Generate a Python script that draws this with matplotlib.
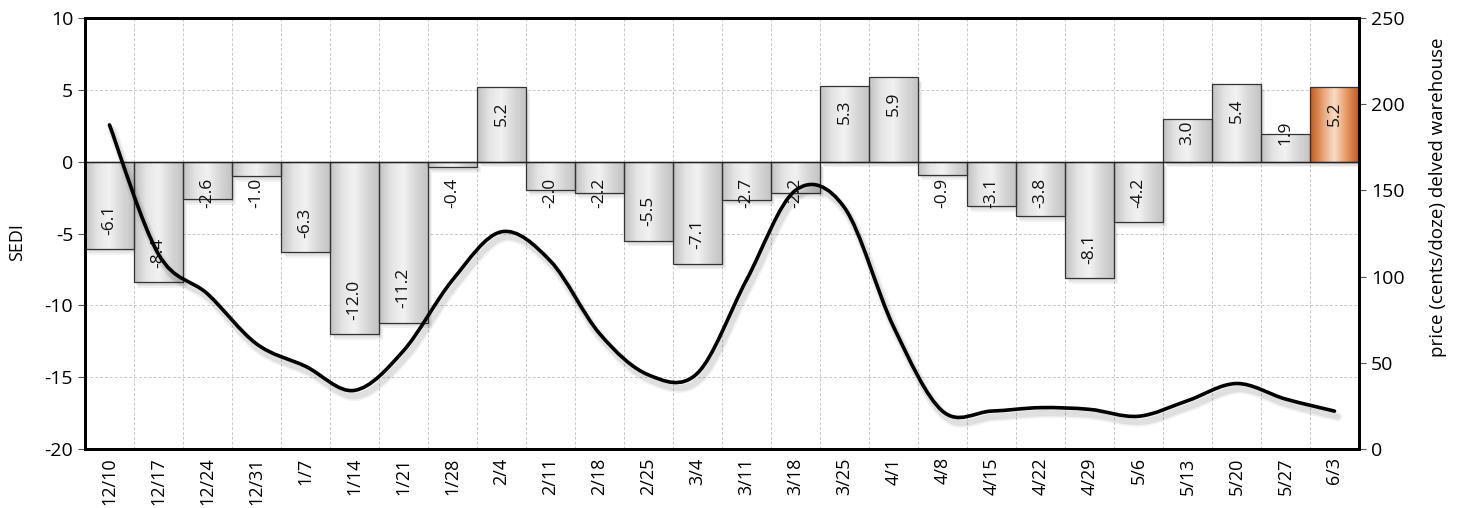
import numpy as np
import matplotlib.pyplot as plt
from matplotlib.path import Path
from matplotlib.patches import PathPatch
import matplotlib.patheffects as pe
from matplotlib.colors import LinearSegmentedColormap

plt.rcParams['font.family'] = ['Open Sans', 'DejaVu Sans']
plt.rcParams['axes.unicode_minus'] = False

weeks = ['12/10', '12/17', '12/24', '12/31', '1/7', '1/14', '1/21', '1/28',
         '2/4', '2/11', '2/18', '2/25', '3/4', '3/11', '3/18', '3/25', '4/1',
         '4/8', '4/15', '4/22', '4/29', '5/6', '5/13', '5/20', '5/27', '6/3']
sedi = [-6.1, -8.4, -2.6, -1.0, -6.3, -12.0, -11.2, -0.4, 5.2, -2.0, -2.2,
        -5.5, -7.1, -2.7, -2.2, 5.3, 5.9, -0.9, -3.1, -3.8, -8.1, -4.2, 3.0,
        5.4, 1.9, 5.2]
price = [188, 113, 90, 61, 48, 34, 57, 98, 126, 109, 67, 43, 44, 98, 150,
         140, 71, 22, 22, 24, 23, 19, 28, 38, 29, 22]

x = np.arange(len(weeks))

fig = plt.figure(figsize=(14.6, 5.08), dpi=100)
ax = fig.add_axes([0.0582, 0.1161, 0.8726, 0.8485])
ax2 = ax.twinx()

gray = LinearSegmentedColormap.from_list('g', ['#c2c2c2', '#e4e4e4', '#f2f2f2', '#d8d8d8', '#c4c4c4'])
orange = LinearSegmentedColormap.from_list('o', ['#c25a1e', '#e9a070', '#f8dcc8', '#e59a68', '#c25a1e'])
grad = np.linspace(0, 1, 64).reshape(1, -1)

bars = ax.bar(x, sedi, width=1.0, color='none', edgecolor='#333333', linewidth=0.9, zorder=3)
for i, b in enumerate(bars):
    x0, y0, w, h = b.get_x(), b.get_y(), b.get_width(), b.get_height()
    # soft shadow below/right of each bar
    for k, a in enumerate([0.05, 0.05, 0.05]):
        sh = plt.Rectangle((x0 + 0.04 + 0.02 * k, y0 - 0.15 - 0.12 * k), w, h,
                           facecolor='#000000', alpha=a, edgecolor='none', zorder=2)
        ax.add_patch(sh)
    cm = orange if i == len(sedi) - 1 else gray
    im = ax.imshow(grad, cmap=cm, aspect='auto', extent=(x0, x0 + w, y0, y0 + h),
                   zorder=2.5, interpolation='bicubic')
    im.set_clip_path(b)

# labels: inside end, or pushed out from the base if the bar is short
for xi, v in zip(x, sedi):
    s = 1 if v > 0 else -1
    if abs(v) > 4.35:
        y = v - s * 1.0
        va = 'top' if s > 0 else 'bottom'
    else:
        y = s * 1.15
        va = 'bottom' if s > 0 else 'top'
    ax.text(xi, y, f'{v:.1f}', rotation=90, ha='center', va=va, fontsize=12.5,
            color='#111111', zorder=5)

ax.axhline(0, color='#222222', lw=1.0, zorder=4)
ax.set_xlim(-0.5, len(weeks) - 0.5)
ax.set_ylim(-20, 10)
ax.set_yticks([-20, -15, -10, -5, 0, 5, 10])
ax.set_xticks(x)
ax.set_xticklabels(weeks, rotation=90, fontsize=13)
ax.set_xticks(np.arange(-0.5, len(weeks)), minor=True)
ax.tick_params(axis='x', which='major', length=0, pad=6)
ax.tick_params(axis='x', which='minor', length=0)
ax.tick_params(axis='y', labelsize=14, length=5, width=0.8, color='#555555')
ax.grid(True, axis='y', which='major', ls=(0, (3, 2)), color='#c8c8c8', lw=0.7, zorder=0)
ax.grid(True, axis='x', which='minor', ls=(0, (3, 2)), color='#c8c8c8', lw=0.7, zorder=0)
ax.set_axisbelow(True)
ax.set_ylabel('SEDI', fontsize=13)
ax.yaxis.set_label_coords(-0.046, 0.48)

# smooth line (Catmull-Rom -> cubic bezier)
pts = np.column_stack([x, price]).astype(float)
p = np.vstack([pts[0], pts, pts[-1]])
verts = [tuple(pts[0])]
codes = [Path.MOVETO]
for k in range(1, len(p) - 2):
    c1 = p[k] + (p[k + 1] - p[k - 1]) / 6
    c2 = p[k + 1] - (p[k + 2] - p[k]) / 6
    verts += [tuple(c1), tuple(c2), tuple(p[k + 1])]
    codes += [Path.CURVE4] * 3
line = PathPatch(Path(verts, codes), facecolor='none', edgecolor='black', lw=2.6,
                 capstyle='round', zorder=5)
line.set_path_effects([
    pe.Stroke(linewidth=7, foreground='black', alpha=0.05, offset=(2, -4)),
    pe.Stroke(linewidth=4.5, foreground='black', alpha=0.08, offset=(2, -4)),
    pe.Normal()])
ax2.add_patch(line)
ax2.set_ylim(0, 250)
ax2.set_yticks([0, 50, 100, 150, 200, 250])
ax2.tick_params(axis='y', labelsize=14, length=5, width=0.8, color='#555555')
ax2.set_ylabel('price (cents/doze) delved warehouse', fontsize=13.5)
ax2.yaxis.set_label_coords(1.055, 0.585)

for a in (ax, ax2):
    for sp in a.spines.values():
        sp.set_linewidth(2.0)
        sp.set_color('black')

fig.savefig('out.png', dpi=100)
